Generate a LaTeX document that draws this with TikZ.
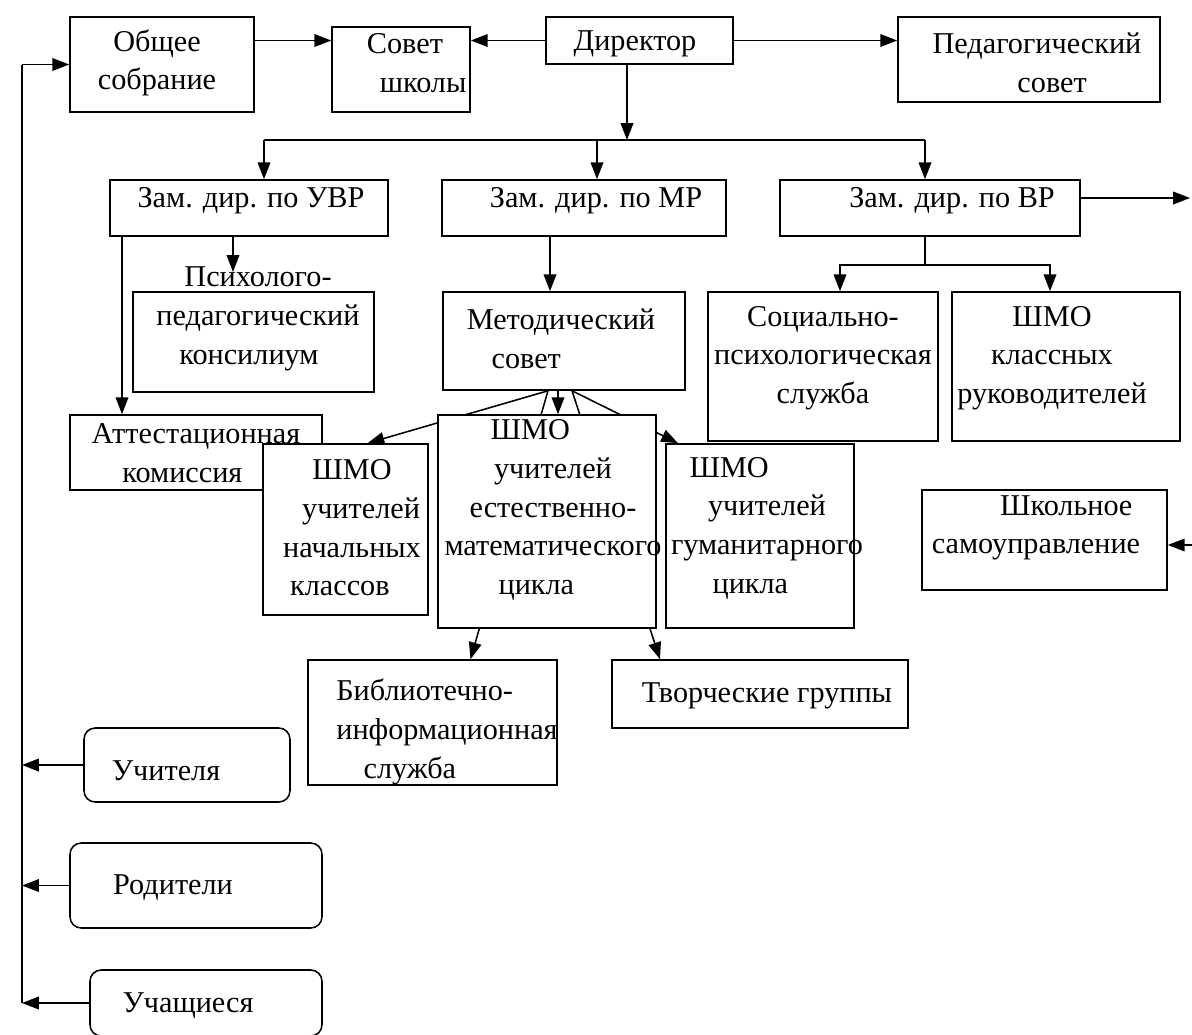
\documentclass[tikz,border=0pt]{standalone}
\usepackage{fontspec}
\setmainfont{Liberation Serif}
\newfontfamily\orgfont{Liberation Serif}
\usetikzlibrary{arrows.meta, calc, backgrounds}

\tikzset{
  orgbox/.style 2 args={draw=black, fill=white, line width=1.1pt, inner sep=0pt,
    minimum width=#1*0.025cm, minimum height=#2*0.025cm},
  softbox/.style 2 args={orgbox={#1}{#2}, rounded corners=8pt},
  txt/.style={align=center, inner sep=0pt, font=\orgfont\fontsize{21.5}{27.5}\selectfont},
  ln/.style={line width=1.1pt},
  arr/.style={line width=1.1pt, -{Triangle[length=12pt,width=9pt]}}
}

\begin{document}
\begin{tikzpicture}[x=0.025cm, y=-0.025cm]
\useasboundingbox (0,0) rectangle (1192,1034);
\clip (0,0) rectangle (1192,1034);

% top row
\node[orgbox={184}{95}] (obsh) at (162,64.5) {};
\node[txt] (obsh-t) at (157,63) {Общее\\собрание};
\node[orgbox={138}{85}] (sovet) at (401,69.5) {};
\node[txt] (sovet-t) at (414,63) {Совет\hspace*{0.6em}\\\hspace*{0.6em}школы};
\node[orgbox={187}{47}] (dir) at (639.5,40.5) {};
\node[txt] (dir-t) at (635,44) {Директор};
\node[orgbox={262}{85}] (ped) at (1029,59.5) {};
\node[txt] (ped-t) at (1037,63) {Педагогический\\\hspace*{1em}совет};

% deputies
\node[orgbox={278}{56}] (uvr) at (249,208) {};
\node[txt] (uvr-t) at (251,201) {Зам. дир. по УВР};
\node[orgbox={284}{56}] (mr) at (584,208) {};
\node[txt] (mr-t) at (596,201) {Зам. дир. по МР};
\node[orgbox={300}{56}] (vr) at (930,208) {};
\node[txt] (vr-t) at (952,201) {Зам. дир. по ВР};

% third row
\node[orgbox={241}{100}] (psy) at (253.5,342) {};
\node[txt] (psy-t) at (258,319) {Психолого-\\педагогический\\консилиум\hspace*{0.6em}};
\node[orgbox={242}{98}] (met) at (564,341) {};
\node[txt] (met-t) at (561,339) {Методический\\совет\hspace*{2.3em}};
\node[orgbox={230}{149}] (soc) at (823,366.5) {};
\node[txt] (soc-t) at (823,358) {Социально-\\психологическая\\служба};
\node[orgbox={228}{149}] (shmok) at (1066,366.5) {};
\node[txt] (shmok-t) at (1052,358) {ШМО\\классных\\руководителей};

% fourth row
\node[orgbox={252}{75}] (att) at (196,452.5) {};
\node[txt] (att-t) at (196,453) {Аттестационная\\комиссия\hspace*{0.9em}};
\node[orgbox={165}{171}] (shmon) at (345.5,529.5) {};
\node[txt] (shmon-t) at (352,528) {ШМО\\\hspace*{0.6em}учителей\\начальных\\классов\hspace*{0.8em}};
\node[orgbox={218}{213}] (shmoe) at (547,521.5) {};
\node[txt] (shmoe-t) at (553,510) {ШМО\hspace*{1.5em}\\учителей\hspace*{1.6em}\\естественно-\hspace*{1.6em}\\математического\\цикла\hspace*{1.1em}};
\node[orgbox={188}{184}] (shmog) at (760,536) {};
\node[txt] (shmog-t) at (767,528) {ШМО\hspace*{2.5em}\\учителей\hspace*{1em}\\гуманитарного\\цикла\hspace*{1.1em}};
\node[orgbox={245}{100}] (samo) at (1044.5,540) {};
\node[txt] (samo-t) at (1036,528) {\hspace*{2em}Школьное\\самоуправление};

% fifth row
\node[orgbox={249}{125}] (bib) at (432.5,722.5) {};
\node[txt, align=left] (bib-t) at (447,732) {Библиотечно-\\информационная\\\hspace*{0.9em}служба};
\node[orgbox={296}{68}] (tvor) at (760,694) {};
\node[txt] (tvor-t) at (767,696) {Творческие группы};

% people
\node[softbox={206}{74}] (uch) at (187,765) {};
\node[txt] (uch-t) at (166,771) {Учителя};
\node[softbox={252}{85}] (rod) at (196,885.5) {};
\node[txt] (rod-t) at (173,888) {Родители};
\node[softbox={232}{66}] (ucha) at (206,1003) {};
\node[txt] (ucha-t) at (188,1006) {Учащиеся};

% helper points
\coordinate (lft) at (22,0);
\coordinate (split) at (627,140);
\coordinate (hl) at (264,140);
\coordinate (hm) at (597,140);
\coordinate (hr) at (925,140);
\coordinate (vr-out) at (1190,198);
\coordinate (samo-in) at (1192,545);
\coordinate (att-x) at (122,0);
\coordinate (psy-in) at (233,272);
\coordinate (met-x) at (550,0);
\coordinate (vr-split) at (925,265);
\coordinate (soc-x) at (840,0);
\coordinate (shmok-x) at (1050,0);

% top links
\draw[arr] (obsh.east |- dir) -- (sovet.west |- dir);
\draw[arr] (dir.west) -- (sovet.east |- dir.west);
\draw[arr] (dir.east) -- (ped.west |- dir.east);
\draw[arr] (dir.south -| split) -- (split);
\draw[ln] (hl) -- (hr);
\draw[arr] (hl) -- (hl |- uvr.north);
\draw[arr] (hm) -- (hm |- mr.north);
\draw[arr] (hr) -- (hr |- vr.north);

% deputies down
\draw[arr] (uvr.south -| att-x) -- (att.north -| att-x);
\draw[arr] (uvr.south -| psy-in) -- (psy-in);
\draw[arr] (mr.south -| met-x) -- (met.north -| met-x);
\draw[ln] (vr.south -| vr-split) -- (vr-split);
\draw[arr] (vr-split) -| (soc.north -| soc-x);
\draw[arr] (vr-split) -| (shmok.north -| shmok-x);
\draw[arr] (vr.east |- vr-out) -- (vr-out);
\draw[arr] (samo-in) -- (samo.east |- samo-in);

% from the methodical council, behind the boxes
\begin{scope}[on background layer]
\draw[arr] ($(met.south)+(-16,0)$) -- ($(shmon.north)+(22,0)$);
\draw[arr] ($(met.south)+(-6,0)$) -- ($(shmoe.north)+(11,0)$);
\draw[arr] ($(met.south)+(8,0)$) -- ($(shmog.north)+(-82,0)$);
\draw[arr] ($(met.south)+(-16,0)$) -- ($(bib.north)+(38,0)$);
\draw[arr] ($(met.south)+(8,0)$) -- ($(tvor.north)+(-100,0)$);
\end{scope}

% feedback line on the left
\draw[ln] (lft |- obsh.west) -- (lft |- ucha.west);
\draw[arr] (lft |- obsh.west) -- (obsh.west);
\draw[arr] (uch.west) -- (lft |- uch.west);
\draw[arr] (rod.west) -- (lft |- rod.west);
\draw[arr] (ucha.west) -- (lft |- ucha.west);
\end{tikzpicture}
\end{document}
